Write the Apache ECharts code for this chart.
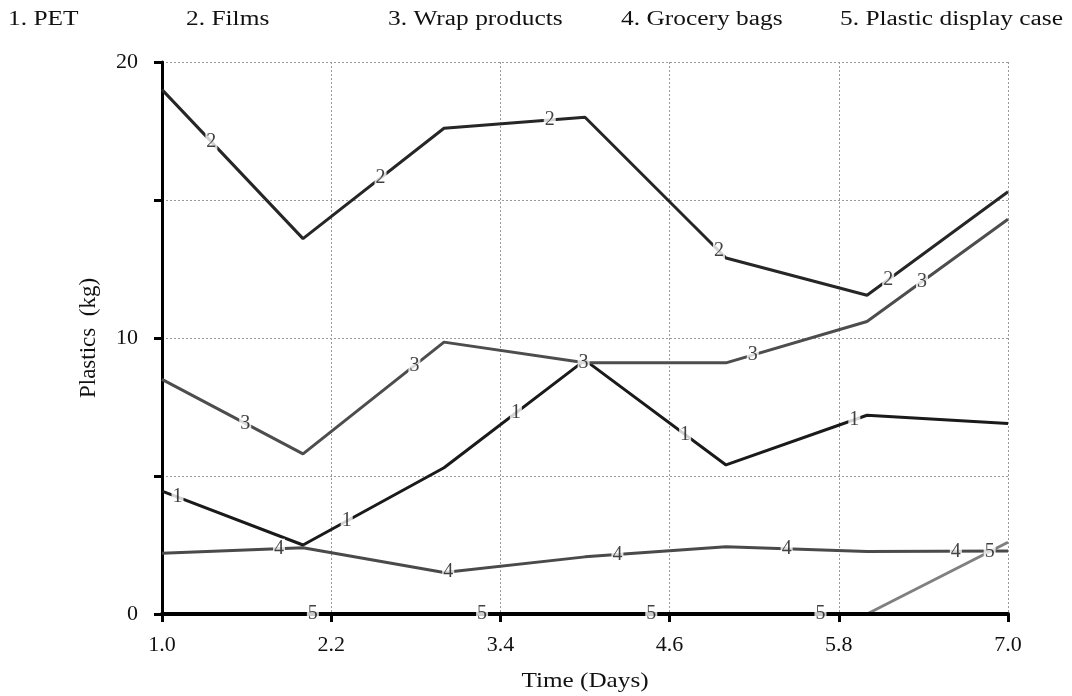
<!DOCTYPE html>
<html>
<head>
<meta charset="utf-8">
<script src="https://cdn.jsdelivr.net/npm/echarts@6/dist/echarts.min.js"></script>
<style>
  html, body { margin: 0; padding: 0; background: #fff; }
  #chart { width: 1072px; height: 696px; }
</style>
</head>
<body>
<div id="chart"></div>
<script>
// data
var days = [1, 2, 3, 4, 5, 6, 7];
var seriesNames = ['PET', 'Films', 'Wrap products', 'Grocery bags', 'Plastic display case'];
var pet = [4.45, 2.5, 5.3, 9.2, 5.4, 7.2, 6.9];
var films = [19.0, 13.6, 17.6, 18.0, 12.9, 11.55, 15.3];
var wrap = [8.5, 5.8, 9.85, 9.1, 9.1, 10.6, 14.3];
var grocery = [2.2, 2.4, 1.5, 2.07, 2.44, 2.26, 2.28];
var display = [0, 0, 0, 0, 0, 0, 2.6];
var xTicks = [1.0, 2.2, 3.4, 4.6, 5.8, 7.0];
var yTicks = [0, 10, 20];

var allSeries = [pet, films, wrap, grocery, display];
var colors = ['#1a1a1a', '#262626', '#4d4d4d', '#4a4a4a', '#808080'];
var font = '"Liberation Serif", "Times New Roman", serif';

function pairs(vals) {
  return vals.map(function (v, i) { return [days[i], v]; });
}

// value of a series at day x (for placing the number tags on the lines)
function valueAt(vals, x) {
  for (var i = 0; i < days.length - 1; i++) {
    if (x >= days[i] && x <= days[i + 1]) {
      var t = (x - days[i]) / (days[i + 1] - days[i]);
      return vals[i] + t * (vals[i + 1] - vals[i]);
    }
  }
  return vals[vals.length - 1];
}

var series = [];
allSeries.forEach(function (vals, k) {
  series.push({
    name: seriesNames[k],
    type: 'line',
    data: pairs(vals),
    symbol: 'none',
    z: k == 4 ? 1 : 3 + k,
    lineStyle: { color: colors[k], width: 3 }
  });
});

// number tags along each line
allSeries.forEach(function (vals, k) {
  var tags = [];
  for (var j = 0; j < 5; j++) {
    var x = 1.11 + 0.24 * k + 1.2 * j;
    tags.push([x, valueAt(vals, x)]);
  }
  series.push({
    type: 'scatter',
    data: tags,
    symbolSize: 0,
    silent: true,
    z: 20,
    label: {
      show: true,
      position: 'inside',
      formatter: String(k + 1),
      color: '#111',
      fontFamily: font,
      fontSize: 20,
      backgroundColor: '#fff',
      padding: [0, 1]
    }
  });
});

// legend row along the top (text is wide in the source, so stretch it a bit)
var legendX = [8, 186, 388, 621, 840];
var graphic = seriesNames.map(function (n, k) {
  return {
    type: 'text',
    x: legendX[k],
    y: 10,
    scaleX: 1.27,
    style: { text: (k + 1) + '. ' + n, font: '20px ' + font, fill: '#111', verticalAlign: 'top' }
  };
});
graphic.push({
  type: 'text',
  x: 585,
  y: 681,
  scaleX: 1.2,
  style: { text: 'Time (Days)', font: '21px ' + font, fill: '#111', align: 'center', verticalAlign: 'middle' }
});

var myChart = echarts.init(document.getElementById('chart'));

option = {
  animation: false,
  backgroundColor: '#fff',
  graphic: graphic,
  grid: { left: 162, right: 64, top: 62, bottom: 82 },
  xAxis: {
    type: 'value',
    min: 1,
    max: 7,
    z: 2,
    axisLine: { lineStyle: { color: '#000', width: 4 } },
    axisTick: { customValues: xTicks, length: 8, lineStyle: { color: '#000', width: 3 } },
    axisLabel: {
      customValues: xTicks,
      formatter: function (v) { return v.toFixed(1); },
      fontFamily: font, fontSize: 22, color: '#111', margin: 20
    },
    splitLine: { show: true, lineStyle: { color: '#999', type: [2, 2], width: 1 } }
  },
  yAxis: {
    type: 'value',
    min: 0,
    max: 20,
    interval: 5,
    z: 2,
    name: 'Plastics  (kg)',
    nameLocation: 'middle',
    nameGap: 62,
    nameTextStyle: { fontFamily: font, fontSize: 23, color: '#111' },
    axisLine: { show: true, lineStyle: { color: '#000', width: 3 } },
    axisTick: { show: true, length: 8, lineStyle: { color: '#000', width: 3 } },
    axisLabel: {
      formatter: function (v) { return yTicks.indexOf(v) >= 0 ? String(v) : ''; },
      fontFamily: font, fontSize: 22, color: '#111', margin: 24
    },
    splitLine: { show: true, lineStyle: { color: '#999', type: [2, 2], width: 1 } }
  },
  series: series
};

myChart.setOption(option);
</script>
</body>
</html>
